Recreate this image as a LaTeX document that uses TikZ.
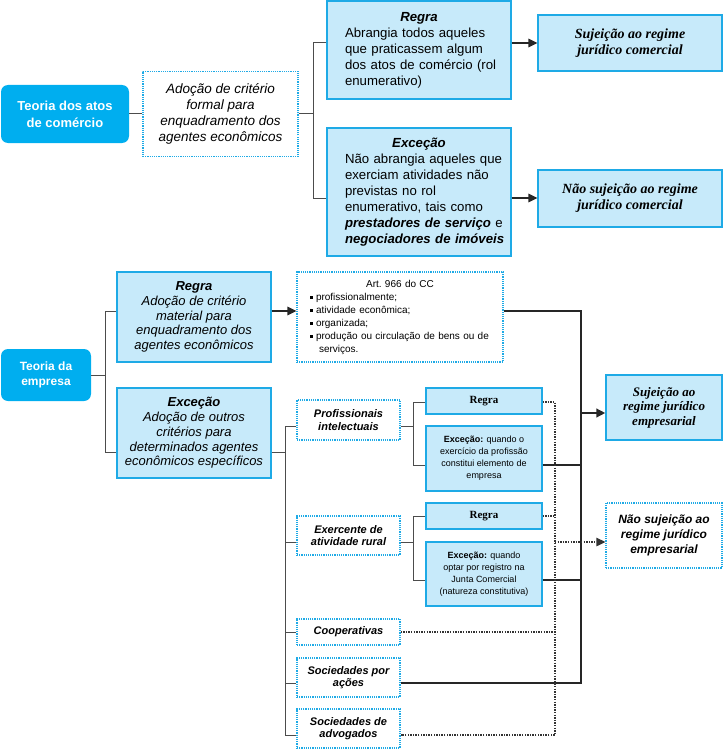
\documentclass[tikz,border=0pt]{standalone}
\usepackage{fontspec}
\setmainfont{Liberation Sans}
\newfontfamily\serifa{Liberation Serif}
\usetikzlibrary{arrows.meta}

\definecolor{ciano}{RGB}{0,174,239}
\definecolor{azulclaro}{RGB}{199,234,250}
\definecolor{borda}{RGB}{30,170,230}

\newcommand{\marca}{\rule[0.25ex]{2.5pt}{2.5pt}\hspace{3.5pt}}
\newcommand{\titulo}[1]{\makebox[\hsize]{\textbf{\textit{#1}}}}
\newcommand{\recuo}{\hspace*{15pt}}

\tikzset{
  dim/.style 2 args={minimum width=#1pt, minimum height=#2pt},
  tema/.style={fill=ciano, rounded corners=7pt, text=white, align=center, inner sep=0pt},
  caixa/.style={draw=borda, fill=azulclaro, line width=1.3pt, inner sep=0pt},
  pontos/.style={draw=borda, fill=white, line width=1.3pt, dash pattern=on 1.2pt off 1pt, inner sep=0pt},
  sub/.style={font=\fontsize{11}{12.7}\selectfont\bfseries\itshape, align=center},
  juridico/.style={font=\serifa\fontsize{14}{16}\selectfont\bfseries\itshape, align=center},
  liga/.style={draw=black!70, line width=1pt},
  grossa/.style={draw=black!85, line width=2.3pt},
  pont/.style={draw=black!80, line width=1.3pt, dash pattern=on 1.3pt off 1.3pt},
  seta/.style={draw=black!85, line width=1.5pt, -{Triangle[length=9pt,width=8.5pt]}},
}

\begin{document}
\begin{tikzpicture}[x=1pt, y=-1pt]
  \useasboundingbox (0,0) rectangle (724,749);

  % teoria dos atos de comercio
  \node[tema, dim={128}{58}, font=\fontsize{13}{17}\selectfont\bfseries] (atos) at (65,114) {Teoria dos atos\\de comércio};
  \node[pontos, dim={155}{85}, font=\fontsize{13.5}{16}\selectfont\itshape, align=center] (formal) at (220.5,114) {Adoção de critério\\formal para\\enquadramento dos\\agentes econômicos};
  \node[caixa, dim={184}{98}, text width=178pt, align=left, font=\fontsize{13.2}{16}\selectfont] (regraA) at (419,50) {\titulo{Regra}\\\recuo Abrangia todos aqueles\\\recuo que praticassem algum\\\recuo dos atos de comércio (rol\\\recuo enumerativo)};
  \node[caixa, dim={184}{128}, text width=178pt, align=left, font=\fontsize{13.2}{16}\selectfont] (excA) at (419,192) {\titulo{Exceção}\\\recuo Não abrangia aqueles que\\\recuo exerciam atividades não\\\recuo previstas no rol\\\recuo enumerativo, tais como\\\recuo\textbf{\textit{prestadores de serviço}} e\\\recuo\textbf{\textit{negociadores de imóveis}}};
  \node[caixa, dim={184}{56}, juridico] (sujA) at (630,43) {Sujeição ao regime\\jurídico comercial};
  \node[caixa, dim={184}{57}, juridico] (naoA) at (630,198.5) {Não sujeição ao regime\\jurídico comercial};

  \coordinate (jA) at (313,114);
  \coordinate (jA1) at (313,43);
  \coordinate (jA2) at (313,198);
  \draw[liga] (atos) -- (formal);
  \draw[liga] (formal) -- (jA);
  \draw[liga] (regraA.west |- jA1) -- (jA1) -- (jA2) -- (excA.west |- jA2);
  \draw[seta] (regraA.east |- jA1) -- (sujA.west |- jA1);
  \draw[seta] (excA.east |- jA2) -- (naoA.west |- jA2);

  % teoria da empresa
  \node[tema, dim={90}{52}, font=\fontsize{12}{15}\selectfont\bfseries] (empresa) at (46,375) {Teoria da\\empresa};
  \node[caixa, dim={154}{90}, font=\fontsize{13}{14.7}\selectfont\itshape, align=center] (regraB) at (194,317) {\textbf{Regra}\\Adoção de critério\\material para\\enquadramento dos\\agentes econômicos};
  \node[caixa, dim={154}{90}, font=\fontsize{13}{14.7}\selectfont\itshape, align=center] (excB) at (194,433) {\textbf{Exceção}\\Adoção de outros\\critérios para\\determinados agentes\\econômicos específicos};
  \node[pontos, dim={206}{90}, text width=180pt, align=left, font=\fontsize{10}{13}\selectfont] (art) at (400,317) {\makebox[\hsize]{Art.\ 966 do CC}\\\marca profissionalmente;\\\marca atividade econômica;\\\marca organizada;\\\marca produção ou circulação de bens ou de\\\hspace*{9pt}serviços.};

  \node[pontos, sub, dim={103}{40}] (prof) at (348.5,420) {Profissionais\\intelectuais};
  \node[pontos, sub, dim={103}{39}] (rural) at (348.5,535.5) {Exercente de\\atividade rural};
  \node[pontos, sub, dim={103}{26}] (coop) at (348.5,632) {Cooperativas};
  \node[pontos, sub, dim={103}{39}] (sa) at (348.5,677.5) {Sociedades por\\ações};
  \node[pontos, sub, dim={103}{39}] (adv) at (348.5,728.5) {Sociedades de\\advogados};

  \node[caixa, dim={116}{26}, font=\serifa\fontsize{11}{13}\selectfont\bfseries] (regraP) at (484,401) {Regra};
  \node[caixa, dim={116}{65}, font=\fontsize{9}{12}\selectfont, align=center] (excP) at (484,458.5) {\textbf{Exceção:} quando o\\exercício da profissão\\constitui elemento de\\empresa};
  \node[caixa, dim={116}{26}, font=\serifa\fontsize{11}{13}\selectfont\bfseries] (regraR) at (484,516) {Regra};
  \node[caixa, dim={116}{64}, font=\fontsize{9}{12}\selectfont, align=center] (excR) at (484,574) {\textbf{Exceção:} quando\\optar por registro na\\Junta Comercial\\(natureza constitutiva)};

  \node[caixa, dim={116}{65}, font=\serifa\fontsize{13}{14.5}\selectfont\bfseries\itshape, align=center] (sujB) at (664,407.5) {Sujeição ao\\regime jurídico\\empresarial};
  \node[pontos, dim={116}{65}, font=\fontsize{12}{15}\selectfont\bfseries\itshape, align=center] (naoB) at (664,535.5) {Não sujeição ao\\regime jurídico\\empresarial};

  \coordinate (jB) at (105,375);
  \coordinate (jB1) at (105,311);
  \coordinate (jB2) at (105,452);
  \draw[liga] (empresa) -- (jB);
  \draw[liga] (regraB.west |- jB1) -- (jB1) -- (jB2) -- (excB.west |- jB2);
  \draw[seta] (regraB.east |- jB1) -- (art.west |- jB1);

  \coordinate (jC) at (285,452);
  \coordinate (jC1) at (285,426);
  \coordinate (jC2) at (285,542);
  \coordinate (jC3) at (285,632);
  \coordinate (jC4) at (285,683);
  \coordinate (jC5) at (285,735);
  \draw[liga] (excB.east |- jC) -- (jC);
  \draw[liga] (prof.west |- jC1) -- (jC1) -- (jC5) -- (adv.west |- jC5);
  \draw[liga] (jC2) -- (rural.west |- jC2);
  \draw[liga] (jC3) -- (coop.west |- jC3);
  \draw[liga] (jC4) -- (sa.west |- jC4);

  \coordinate (jP1) at (413,402);
  \coordinate (jP2) at (413,465);
  \draw[liga] (prof.east |- jC1) -- (jP1 |- jC1);
  \draw[liga] (regraP.west |- jP1) -- (jP1) -- (jP2) -- (excP.west |- jP2);
  \coordinate (jR1) at (413,516);
  \coordinate (jR2) at (413,580);
  \draw[liga] (rural.east |- jC2) -- (jR1 |- jC2);
  \draw[liga] (regraR.west |- jR1) -- (jR1) -- (jR2) -- (excR.west |- jR2);

  % para o regime empresarial
  \coordinate (tA) at (581,311);
  \coordinate (tB) at (581,683);
  \coordinate (tS) at (581,413);
  \draw[grossa] (art.east |- tA) -- (tA) -- (tB) -- (sa.east |- tB);
  \draw[grossa] (excP.east |- jP2) -- (jP2 -| tA);
  \draw[grossa] (excR.east |- jR2) -- (jR2 -| tA);
  \draw[seta, line width=2.3pt] (tS) -- (sujB.west |- tS);

  % fora do regime empresarial
  \coordinate (dA) at (555,402);
  \coordinate (dB) at (555,735);
  \draw[pont] (regraP.east |- dA) -- (dA) -- (dB) -- (adv.east |- dB);
  \draw[pont] (regraR.east) -- (regraR.east -| dA);
  \draw[pont] (coop.east) -- (coop.east -| dA);
  \draw[pont, -{Triangle[length=9pt,width=8.5pt]}] (jC2 -| dA) -- (naoB.west |- jC2);
\end{tikzpicture}
\end{document}
